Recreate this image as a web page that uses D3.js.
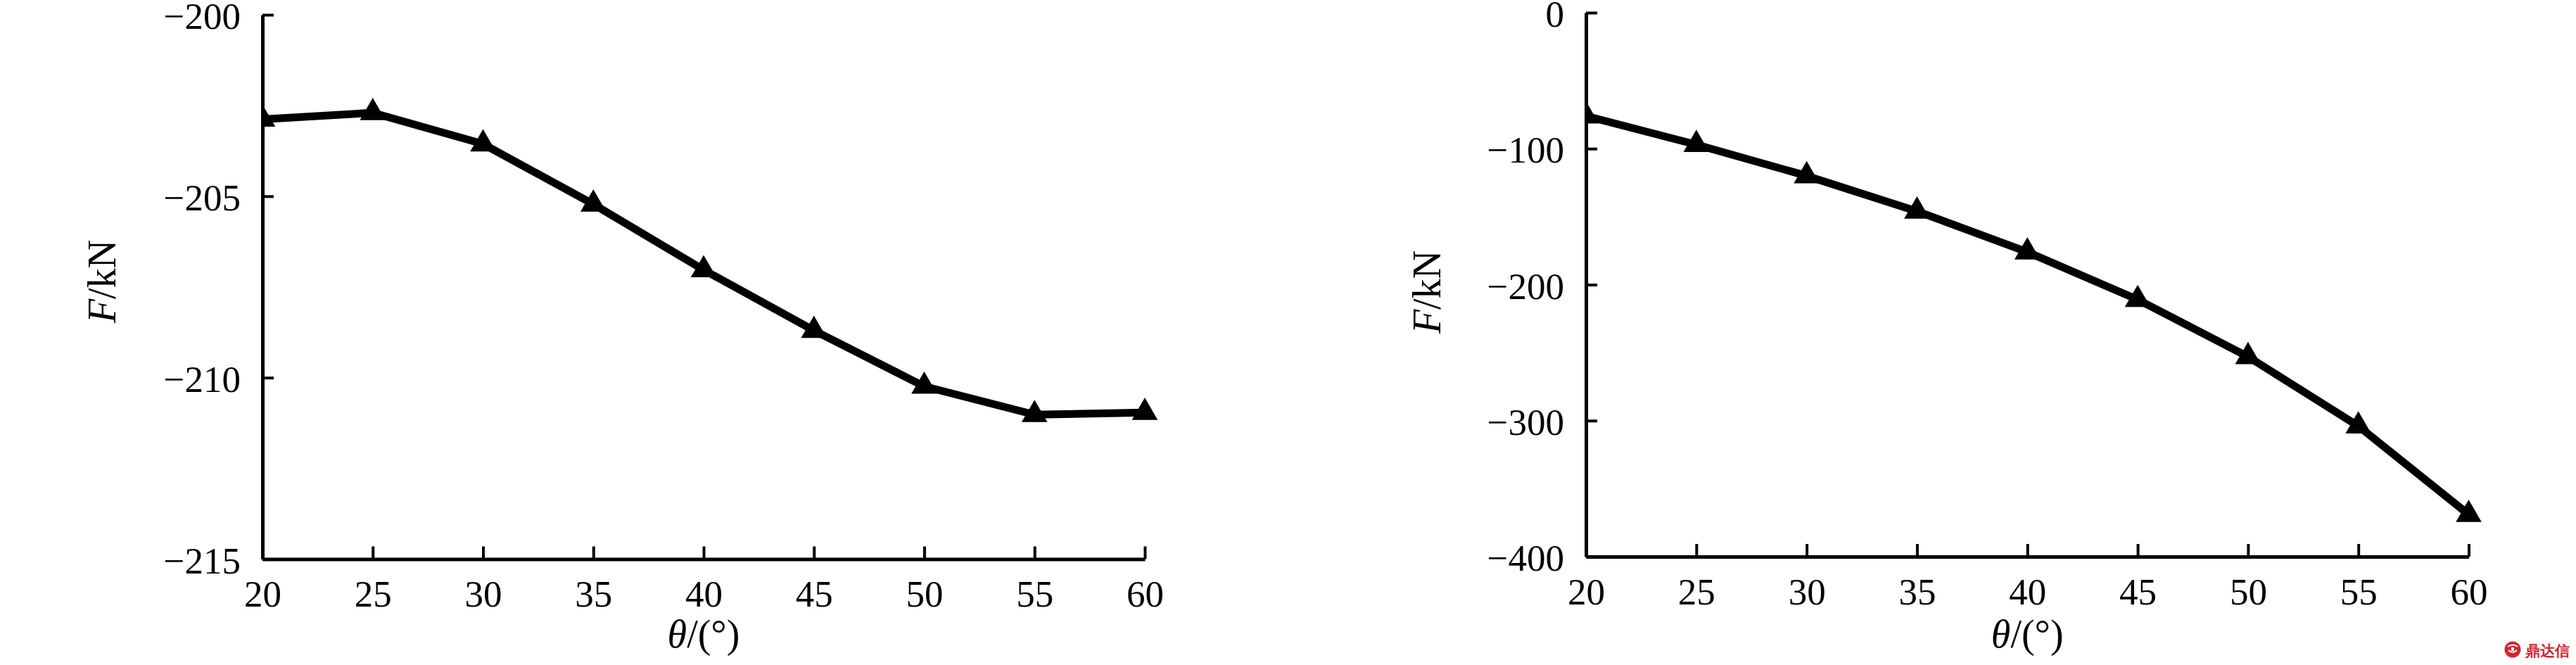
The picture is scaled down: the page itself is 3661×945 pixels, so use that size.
<!DOCTYPE html>
<html>
<head>
<meta charset="utf-8">
<script src="https://cdn.jsdelivr.net/npm/d3@7"></script>
<style>
  html, body { margin: 0; padding: 0; background: #fff; }
  svg { display: block; }
  text { font-family: "Liberation Serif", "Times New Roman", serif; fill: #000; }
</style>
</head>
<body>
<svg id="chart" width="3661" height="945"></svg>
<script>
// ---- data ----
const theta = [20, 25, 30, 35, 40, 45, 50, 55, 60];
const forceLeft = [-202.88, -202.70, -203.56, -205.22, -207.03, -208.70, -210.24, -211.02, -210.96];
const forceRight = [-76, -97, -120, -146, -176, -211, -253, -304, -369];
const xTicks = [20, 25, 30, 35, 40, 45, 50, 55, 60];
const yTicksLeft = [-200, -205, -210, -215];
const yTicksRight = [0, -100, -200, -300, -400];
const xTitle = ["θ", "/(°)"];
const yTitle = ["F", "/kN"];

const svg = d3.select("#chart");
svg.append("rect").attr("width", 3661).attr("height", 945).attr("fill", "#fff");

function fmt(v) { return v < 0 ? "\u2212" + Math.abs(v) : String(v); }

function panel(id, box, yDomain, yTicks, values) {
  const w = box.right - box.left, h = box.bottom - box.top;
  const g = svg.append("g").attr("transform", `translate(${box.left},${box.top})`);
  const x = d3.scaleLinear().domain([20, 60]).range([0, w]);
  const y = d3.scaleLinear().domain(yDomain).range([0, h]);

  svg.append("defs").append("clipPath").attr("id", "clip" + id)
    .append("rect").attr("x", 0).attr("y", -60).attr("width", w + 60).attr("height", h + 120);

  const data = theta.map((t, i) => ({ t, v: values[i] }));
  const plot = g.append("g").attr("clip-path", `url(#clip${id})`);
  plot.append("path").datum(data)
    .attr("fill", "none").attr("stroke", "#000").attr("stroke-width", 11)
    .attr("stroke-linejoin", "round")
    .attr("d", d3.line().x(d => x(d.t)).y(d => y(d.v)));
  plot.selectAll("path.mk").data(data).enter().append("path").attr("class", "mk")
    .attr("transform", d => `translate(${x(d.t)},${y(d.v)})`)
    .attr("d", d3.symbol().type(d3.symbolTriangle).size(580))
    .attr("fill", "#000");

  const xa = g.append("g").attr("transform", `translate(0,${h})`)
    .call(d3.axisBottom(x).tickValues(xTicks).tickSizeInner(-18).tickSizeOuter(0).tickPadding(30).tickFormat(d => String(d)));
  const ya = g.append("g")
    .call(d3.axisLeft(y).tickValues(yTicks).tickSizeInner(-16).tickSizeOuter(0).tickPadding(31).tickFormat(fmt));
  [xa, ya].forEach(a => {
    a.select(".domain").attr("stroke", "#000").attr("stroke-width", 5);
    a.selectAll(".tick line").attr("stroke", "#000").attr("stroke-width", 4);
    a.selectAll(".tick text").attr("font-family", "Liberation Serif").attr("font-size", 53).attr("fill", "#000");
  });
  ya.selectAll(".tick text").attr("dy", "0.37em");

  // x title
  const xt = g.append("text").attr("x", w / 2).attr("y", 920 - box.top)
    .attr("text-anchor", "middle").attr("font-size", 56);
  xt.append("tspan").attr("font-style", "italic").text(xTitle[0]);
  xt.append("tspan").text(xTitle[1]);
  // y title
  const yt = g.append("text")
    .attr("transform", `translate(${box.titleX - box.left},${box.titleY - box.top}) rotate(-90)`)
    .attr("text-anchor", "middle").attr("dy", "0.33em").attr("font-size", 56);
  yt.append("tspan").attr("font-style", "italic").text(yTitle[0]);
  yt.append("tspan").text(yTitle[1]);
}

panel("A", { left: 373, right: 1627, top: 21, bottom: 794.5, titleX: 146, titleY: 400 }, [-200, -215], yTicksLeft, forceLeft);
panel("B", { left: 2254, right: 3508.5, top: 18, bottom: 791, titleX: 2029, titleY: 415 }, [0, -400], yTicksRight, forceRight);

// watermark
const wm = svg.append("g").attr("transform", "translate(3571,923)");
wm.append("circle").attr("r", 11.5).attr("fill", "#d22630");
wm.append("path").attr("d", "M-7,-4 Q0,-9 7,-4 M-6,1 Q0,7 6,1").attr("stroke", "#fff").attr("stroke-width", 2).attr("fill", "none");
wm.append("rect").attr("x", -2).attr("y", -3).attr("width", 4).attr("height", 5).attr("fill", "#fff");
svg.append("text").attr("x", 3589).attr("y", 932)
  .attr("font-family", "Noto Sans CJK SC").attr("font-weight", "bold").attr("font-size", 21)
  .attr("fill", "#d22630").style("fill", "#d22630").text("鼎达信");
</script>
</body>
</html>
